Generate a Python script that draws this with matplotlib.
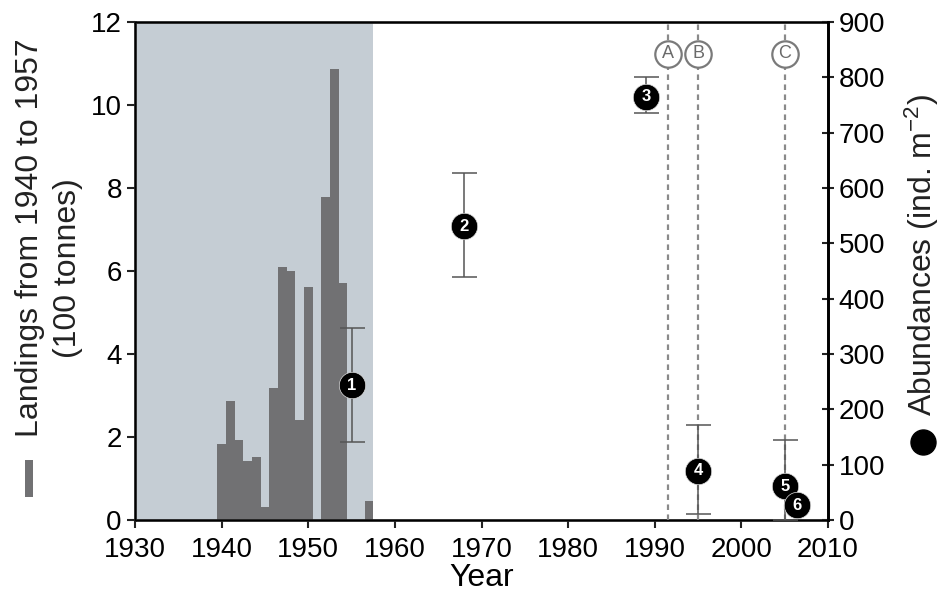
import matplotlib
matplotlib.use("Agg")
import matplotlib.pyplot as plt
from matplotlib.patches import Rectangle
from matplotlib.lines import Line2D

plt.rcParams['font.family'] = ['Liberation Sans', 'DejaVu Sans']
plt.rcParams['mathtext.default'] = 'regular'

# desembarques 1940-1957 (100 toneladas)
bar_years = list(range(1940, 1958))
landings = [1.82, 2.86, 1.92, 1.43, 1.51, 0.31, 3.19, 6.09, 6.01, 2.41,
            5.62, 0.0, 7.79, 10.86, 5.70, 0.0, 0.0, 0.45]

# abundancias (ind. m-2)
abund_years = [1955, 1968, 1989, 1995, 2005, 2006.4]
abund = [244, 531, 765, 89, 61, 27]
abund_ids = ['1', '2', '3', '4', '5', '6']
# barras de erro (somente pontos 1 a 5)
err_upper = [347, 627, 801, 172, 145]
err_lower = [141, 439, 736, 11, 0]

# eventos
event_years = [1991.5, 1995, 2005]
event_labels = ['A', 'B', 'C']

shade_start, shade_end = 1930, 1957.5

fig = plt.figure(figsize=(9.41, 6.03), dpi=100)
ax = fig.add_axes([0.1435, 0.1376, 0.7364, 0.8259])

ax.axvspan(shade_start, shade_end, color='#c5cdd4', lw=0, zorder=0)
ax.bar(bar_years, landings, width=1.0, color='#717173', lw=0, zorder=1)

ax.set_xlim(1930, 2010)
ax.set_ylim(0, 12)
ax.set_xticks(range(1930, 2011, 10))
ax.set_yticks(range(0, 13, 2))
ax.tick_params(labelsize=20, length=6, width=1.5, color='#222222')
ax.tick_params(axis='x', pad=6)
for s in ax.spines.values():
    s.set_linewidth(2)
    s.set_color('#222222')
ax.set_xlabel('Year', fontsize=23, labelpad=0)

ax2 = ax.twinx()
ax2.set_ylim(0, 900)
ax2.set_yticks(range(0, 901, 100))
ax2.tick_params(labelsize=20, length=8, width=1.5, direction='inout', color='#222222')
ax2.spines['right'].set_linewidth(2)

# linhas tracejadas dos eventos
for yr, lab in zip(event_years, event_labels):
    ax2.axvline(yr, color='#8a8a8a', lw=1.6, ls=(0, (2.5, 2)), zorder=2)
    ax2.plot([yr], [0.936], transform=ax2.get_xaxis_transform(), marker='o',
             ms=19, mfc='white', mec='#7a7a7a', mew=1.6, zorder=3, clip_on=False)
    ax2.text(yr, 0.936, lab, transform=ax2.get_xaxis_transform(), ha='center',
             va='center', fontsize=13, color='#6a6a6a', zorder=4)

n = len(err_upper)
yerr = [[abund[i] - err_lower[i] for i in range(n)],
        [err_upper[i] - abund[i] for i in range(n)]]
ax2.errorbar(abund_years[:n], abund[:n], yerr=yerr, fmt='none', ecolor='#555555',
             elinewidth=1.1, capsize=9, capthick=1.1, zorder=5)
ax2.plot(abund_years, abund, 'o', ms=19, color='black', mec='#dddddd', mew=0.5,
         ls='none', zorder=6, clip_on=False)
for x, y, t in zip(abund_years, abund, abund_ids):
    ax2.text(x, y, t, ha='center', va='center', fontsize=12, color='white',
             fontweight='bold', zorder=7)

# rotulos dos eixos y
fig.text(30 / 941, 1 - 238 / 603, 'Landings from 1940 to 1957', rotation=90,
         ha='center', va='center', fontsize=23, color='#222222')
fig.text(68 / 941, 1 - 268 / 603, '(100 tonnes)', rotation=90,
         ha='center', va='center', fontsize=23, color='#222222')
fig.add_artist(Rectangle((25 / 941, 1 - 497 / 603), 8 / 941, 37 / 603,
                         transform=fig.transFigure, color='#717173', lw=0))

fig.text(922 / 941, 1 - 255 / 603, 'Abundances (ind. m$^{-2}$)', rotation=90,
         ha='center', va='center', fontsize=23, color='#222222')
fig.add_artist(Line2D([923 / 941], [1 - 442 / 603], marker='o', ms=18,
                      color='black', transform=fig.transFigure))

fig.savefig('out.png', dpi=100)
